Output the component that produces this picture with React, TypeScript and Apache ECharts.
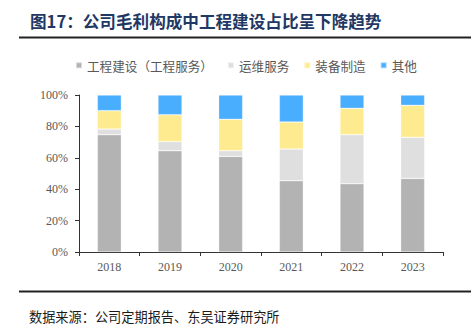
import React, { useEffect, useRef } from "react";
import * as echarts from "echarts";

const titleText = "图17：公司毛利构成中工程建设占比呈下降趋势";
const sourceText = "数据来源：公司定期报告、东吴证券研究所";
const years = ["2018", "2019", "2020", "2021", "2022", "2023"];
const seriesNames = ["工程建设（工程服务）", "运维服务", "装备制造", "其他"];
const engineering = [74.7, 64.5, 60.9, 45.4, 43.5, 46.9];
const maintenance = [3.6, 5.8, 3.6, 20.2, 31.2, 26.1];
const equipment = [11.7, 17.1, 20.0, 17.2, 16.8, 20.4];
const others = [10.0, 12.6, 15.5, 17.2, 8.5, 6.6];
const colors = ["#b3b3b3", "#dfdfdf", "#ffeb8f", "#4aaefe"];
const yTicks = [0, 20, 40, 60, 80, 100];

export default function App() {
  const ref = useRef<HTMLDivElement>(null);
  useEffect(() => {
    if (!ref.current) return;
    const chart = echarts.init(ref.current, null, { renderer: "svg" });
    const data = [engineering, maintenance, equipment, others];
    const serif = "'Liberation Serif', 'Times New Roman', serif";
    const cjk = "'Noto Sans CJK SC', sans-serif";
    chart.setOption({
      animation: false,
      backgroundColor: "#ffffff",
      color: colors,
      legend: {
        left: 75,
        top: 59,
        padding: 0,
        itemWidth: 6,
        itemHeight: 6,
        itemGap: 14,
        icon: "rect",
        textStyle: { fontSize: 12.6, color: "#595959", fontFamily: cjk },
        data: seriesNames,
      },
      grid: { left: 79, right: 30, top: 95, bottom: 74 },
      xAxis: {
        type: "category",
        data: years,
        axisLine: { lineStyle: { color: "#333333", width: 1 } },
        axisTick: { show: true, length: 4, lineStyle: { color: "#333333" } },
        axisLabel: { color: "#595959", fontSize: 12, fontFamily: serif, margin: 9 },
      },
      yAxis: {
        type: "value",
        min: 0,
        max: 100,
        interval: 20,
        axisLine: { show: true, lineStyle: { color: "#333333", width: 1 } },
        axisTick: { show: true, length: 4, lineStyle: { color: "#333333" } },
        splitLine: { show: false },
        axisLabel: {
          color: "#595959",
          fontSize: 12,
          fontFamily: serif,
          margin: 11,
          formatter: (v: number) => (yTicks.includes(v) ? v + "%" : ""),
        },
      },
      series: seriesNames.map((name, i) => ({
        name,
        type: "bar",
        stack: "total",
        barWidth: 24,
        data: data[i],
        itemStyle: { color: colors[i], borderColor: "rgba(255,255,255,0.5)", borderWidth: 0.6 },
      })),
      graphic: [
        {
          type: "text",
          left: 30,
          top: 13,
          style: {
            text: titleText,
            font: "bold 16.6px 'Noto Sans CJK SC', sans-serif",
            fill: "#1f3864",
          },
        },
        {
          type: "line",
          shape: { x1: 19, y1: 37.5, x2: 471, y2: 37.5 },
          style: { stroke: "#222222", lineWidth: 2 },
        },
        {
          type: "line",
          shape: { x1: 19, y1: 291.5, x2: 471, y2: 291.5 },
          style: { stroke: "#222222", lineWidth: 2 },
        },
        {
          type: "text",
          left: 29,
          top: 310,
          style: {
            text: sourceText,
            font: "13.2px 'Noto Sans CJK SC', sans-serif",
            fill: "#1a1a1a",
          },
        },
      ],
    });
    return () => chart.dispose();
  }, []);
  return <div ref={ref} style={{ width: 473, height: 326, position: "absolute", left: 0, top: 0 }} />;
}
